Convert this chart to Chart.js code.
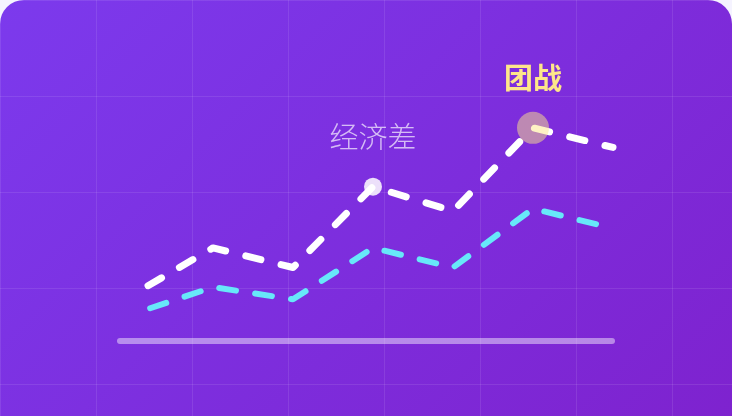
<!DOCTYPE html>
<html>
<head>
<meta charset="utf-8">
<script src="https://cdn.jsdelivr.net/npm/chart.js@4"></script>
<style>
  html, body { margin: 0; padding: 0; background: #f5f3ff; overflow: hidden; }
  .card {
    position: relative;
    width: 732px;
    height: 440px;
    border-radius: 24px;
    background-image:
      linear-gradient(rgba(255,255,255,0.09) 1px, transparent 1px),
      linear-gradient(90deg, rgba(255,255,255,0.09) 1px, transparent 1px),
      linear-gradient(135deg, #7c3aed 0%, #7e22ce 100%);
    background-size: 96px 96px, 96px 96px, 100% 100%;
    background-position: 0 0, 0 0, 0 0;
  }
  canvas { position: absolute; left: 0; top: 0; }
</style>
</head>
<body>
<div class="card">
  <canvas id="matchChart" width="732" height="416"></canvas>
</div>
<script>
const minutes = ['0分', '5分', '10分', '15分', '20分', '25分', '30分'];
const teamA = [19, 38, 30, 63, 53, 87, 79];
const teamB = [11, 22, 17, 38, 30, 54, 46];
const events = ['', '', '', '经济差', '', '团战', ''];

// soft baseline track under the lines
const trackPlugin = {
  id: 'track',
  beforeDatasetsDraw(chart) {
    const { ctx, scales } = chart;
    const y = scales.y.getPixelForValue(0);
    const x0 = scales.x.getPixelForValue(0) - 13;
    const x1 = scales.x.getPixelForValue(minutes.length - 1) - 1;
    ctx.save();
    ctx.strokeStyle = 'rgba(255,255,255,0.45)';
    ctx.lineWidth = 6;
    ctx.lineCap = 'round';
    ctx.beginPath();
    ctx.moveTo(x0, y);
    ctx.lineTo(x1, y);
    ctx.stroke();
    ctx.restore();
  }
};

// text above the marked moments
const eventPlugin = {
  id: 'events',
  afterDatasetsDraw(chart) {
    const { ctx } = chart;
    const pts = chart.getDatasetMeta(0).data;
    ctx.save();
    ctx.textAlign = 'center';
    ctx.textBaseline = 'middle';
    events.forEach((txt, i) => {
      if (!txt) return;
      const p = pts[i];
      if (i === 5) {
        ctx.font = 'bold 29px "Noto Sans CJK SC"';
        ctx.fillStyle = '#fde68a';
      } else {
        ctx.font = '300 29px "Noto Sans CJK SC"';
        ctx.fillStyle = 'rgba(255,255,255,0.68)';
      }
      ctx.fillText(txt, p.x, p.y - 50);
    });
    ctx.restore();
  }
};

const ctx = document.getElementById('matchChart').getContext('2d');
new Chart(ctx, {
  type: 'line',
  data: {
    labels: minutes,
    datasets: [
      {
        label: '我方',
        data: teamA,
        borderColor: '#ffffff',
        borderWidth: 7,
        borderDash: [15.6, 20.7],
        borderDashOffset: 18.9,
        borderCapStyle: 'round',
        borderJoinStyle: 'round',
        tension: 0,
        fill: false,
        clip: false,
        pointRadius: [0, 0, 0, 9, 0, 16, 0],
        pointBorderWidth: 0,
        pointBackgroundColor: [
          'transparent', 'transparent', 'transparent',
          'rgba(255,255,255,0.85)', 'transparent',
          'rgba(253,230,138,0.5)', 'transparent'
        ]
      },
      {
        label: '敌方',
        data: teamB,
        borderColor: '#67e8f9',
        borderWidth: 6,
        borderDash: [17, 19.3],
        borderDashOffset: 18.2,
        borderCapStyle: 'round',
        borderJoinStyle: 'round',
        tension: 0,
        fill: false,
        clip: false,
        pointRadius: 0
      }
    ]
  },
  options: {
    responsive: false,
    animation: false,
    events: [],
    layout: { padding: { left: 133, right: 119, top: 96, bottom: 75 } },
    plugins: { legend: { display: false }, tooltip: { enabled: false } },
    scales: {
      x: { display: false },
      y: { display: false, min: 0, max: 100 }
    }
  },
  plugins: [trackPlugin, eventPlugin]
});
</script>
</body>
</html>
